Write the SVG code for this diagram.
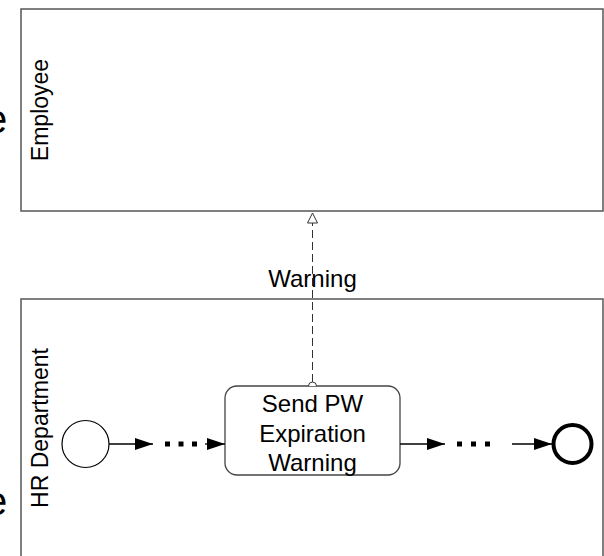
<svg xmlns="http://www.w3.org/2000/svg" width="604" height="556" viewBox="0 0 604 556">
<style>
.pool{fill:#fff;stroke:#555;stroke-width:1.5}
.lbl{font-family:"Liberation Sans",Arial,sans-serif;font-size:23px;fill:#000}
.flow{stroke:#000;stroke-width:1.3;fill:none}
.dot{fill:#000}
</style>
<defs>
<marker id="arr" markerWidth="18" markerHeight="12" refX="18" refY="6" orient="auto" markerUnits="userSpaceOnUse">
<path d="M0,0 L18,6 L0,12 Z" fill="#000"/>
</marker>
<marker id="open" markerWidth="12" markerHeight="12" refX="5.5" refY="0.5" orient="0" markerUnits="userSpaceOnUse">
<path d="M5.5,0.5 L10.5,10.5 L0.5,10.5 Z" fill="#fff" stroke="#333" stroke-width="1"/>
</marker>
</defs>
<rect width="604" height="556" fill="#fff"/>
<text class="lbl" x="-15" y="133" style="font-size:40px">e</text>
<text class="lbl" x="-15" y="515" style="font-size:40px">e</text>
<g id="pool-employee">
<rect class="pool" x="21" y="9" width="582" height="202"/>
<text class="lbl" transform="translate(48,110) rotate(-90)" text-anchor="middle">Employee</text>
</g>
<g id="pool-hr">
<rect class="pool" x="21" y="299" width="582" height="270"/>
<text class="lbl" transform="translate(48,428) rotate(-90)" text-anchor="middle">HR Department</text>
</g>
<g id="start">
<circle cx="85.5" cy="444" r="23.5" fill="#fff" stroke="#000" stroke-width="1.2"/>
</g>
<g id="task">
<rect x="225" y="386" width="175" height="89" rx="12" fill="#fff" stroke="#444" stroke-width="1.3"/>
<text class="lbl" x="312.5" y="412" text-anchor="middle" style="font-size:24px">Send PW</text>
<text class="lbl" x="312.5" y="442" text-anchor="middle" style="font-size:24px">Expiration</text>
<text class="lbl" x="312.5" y="471" text-anchor="middle" style="font-size:24px">Warning</text>
</g>
<g id="end">
<circle cx="572.5" cy="444" r="19" fill="#fff" stroke="#000" stroke-width="4"/>
</g>
<g id="connectors">
<line class="flow" x1="109" y1="444" x2="153" y2="444" marker-end="url(#arr)"/>
<rect class="dot" x="165" y="441.5" width="5" height="5"/>
<rect class="dot" x="178.5" y="441.5" width="5" height="5"/>
<rect class="dot" x="192" y="441.5" width="5" height="5"/>
<line class="flow" x1="205" y1="444" x2="225" y2="444" marker-end="url(#arr)"/>
<line class="flow" x1="400" y1="444" x2="445" y2="444" marker-end="url(#arr)"/>
<rect class="dot" x="457" y="441.5" width="5" height="5"/>
<rect class="dot" x="471" y="441.5" width="5" height="5"/>
<rect class="dot" x="485" y="441.5" width="5" height="5"/>
<line class="flow" x1="512" y1="444" x2="552" y2="444" marker-end="url(#arr)"/>
<path d="M308.5,386 A4,4 0 0 1 316.5,386" fill="#fff" stroke="#333" stroke-width="1"/>
<line x1="312.5" y1="382" x2="312.5" y2="223" stroke="#333" stroke-width="1" stroke-dasharray="8,4"/>
<path d="M312.5,213 L317.5,223 L307.5,223 Z" fill="#fff" stroke="#333" stroke-width="1"/>
<text class="lbl" x="312.5" y="287" text-anchor="middle" style="font-size:24px">Warning</text>
</g>
</svg>
